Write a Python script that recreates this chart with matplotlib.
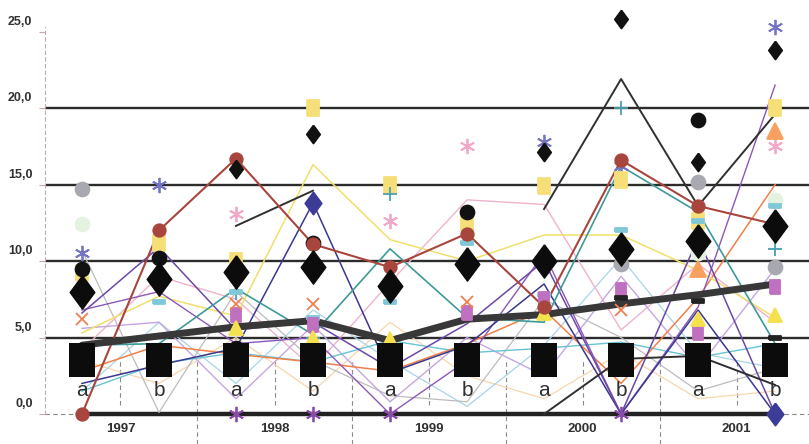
import numpy as np
import matplotlib.pyplot as plt
from matplotlib.transforms import ScaledTranslation

nan = np.nan

groups = ['a', 'b', 'a', 'b', 'a', 'b', 'a', 'b', 'a', 'b']
years = ['1997', '1998', '1999', '2000', '2001']
y_ticks = [0, 5, 10, 15, 20, 25]

# thin series lines
red = [0.0, 12.0, 16.7, 11.1, 9.6, 11.8, 7.0, 16.6, 13.6, 12.4]
yellow = [5.3, 7.7, 6.4, 16.3, 11.4, 10.0, 11.7, 11.7, 9.4, 6.3]
teal = [4.5, 4.6, 8.2, 5.2, 10.8, 6.3, 6.0, 16.2, 13.2, 4.6]
purple = [6.6, 10.9, 5.5, 6.0, 3.0, 5.9, 10.0, 0.0, 11.5, 0.0]
navy = [2.0, 3.2, 4.3, 13.8, 2.7, 4.5, 8.5, 0.0, 6.8, 0.0]
orange = [2.8, 4.5, 3.9, 3.4, 2.8, 4.6, 6.8, 2.0, 7.6, 15.0]
cyan = [1.5, 3.3, 4.0, 3.4, 4.8, 4.0, 4.3, 4.7, 3.7, 4.6]
lavender = [5.6, 6.0, 1.0, 5.8, 0.8, 5.0, 2.5, 9.0, 3.0, 9.5]
pink = [4.2, 9.0, 7.5, 3.0, 8.6, 14.0, 13.7, 5.5, 9.8, 6.0]
grey = [10.7, 0.1, 8.0, 3.5, 1.2, 0.8, 7.5, 5.0, 1.5, 3.0]
violet = [6.8, 8.0, 4.6, 5.0, 0.0, 3.5, 10.5, 0.0, 7.0, 21.5]
lightblue = [1.5, 6.0, 2.0, 6.8, 3.5, 0.5, 4.5, 10.2, 4.0, 3.0]
peach = [3.5, 2.0, 5.0, 1.5, 6.0, 2.5, 1.0, 4.0, 1.0, 1.5]
black_hi = [nan, nan, 12.3, 14.6, nan, nan, 13.4, 21.9, 13.6, 19.6]
black_lo = [nan, nan, nan, nan, nan, nan, 0.0, 3.6, 3.8, 1.9]

# thick mean line, boxes, diamonds
mean_line = [4.5, 5.1, 5.7, 6.1, 4.8, 6.2, 6.5, 7.2, 7.8, 8.5]
box_mid = [3.5, 3.5, 3.5, 3.5, 3.5, 3.5, 3.5, 3.5, 3.5, 3.5]
big_diamond = [8.0, 8.8, 9.3, 9.6, 8.4, 9.8, 10.0, 10.8, 11.3, 12.3]
max_diamond = [nan, nan, 16.0, 18.3, nan, nan, 17.1, 25.8, 16.5, 23.8]

# marker-only points
grey_circ = [14.7, nan, nan, nan, nan, nan, nan, 9.8, 15.2, 9.6]
green_circ = [12.4, nan, nan, nan, nan, nan, nan, nan, 10.5, 14.0]
blue_star = [10.5, 15.0, nan, nan, nan, nan, 17.8, 16.2, nan, 25.3]
pink_star = [nan, nan, 13.1, nan, 12.6, 17.5, nan, nan, nan, 17.5]
yellow_sq = [9.2, 11.2, 10.0, 20.0, 15.0, 12.5, 14.9, 15.3, 12.6, 20.0]
teal_plus = [nan, nan, 7.9, 5.0, 14.4, nan, nan, 20.0, nan, 10.8]
black_circ = [9.5, 10.2, 4.3, 11.2, nan, 13.2, nan, nan, 19.2, nan]
cyan_dash = [4.4, 7.3, 8.0, 6.3, 7.3, 11.2, 7.8, 12.0, 12.6, 13.6]
violet_sq = [nan, nan, 6.5, 5.8, 3.5, 6.6, 7.5, 8.1, 5.3, 8.3]
yellow_tri = [nan, nan, 5.6, 5.0, 4.9, nan, 6.6, nan, 6.2, 6.5]
orange_tri = [nan, nan, nan, nan, nan, nan, nan, nan, 9.5, 18.5]
orange_x = [6.2, nan, 7.2, 7.2, nan, 7.3, nan, 6.8, nan, nan]
purple_x = [nan, nan, 0.0, 0.0, 0.0, nan, nan, 0.0, nan, nan]
navy_diam = [nan, nan, nan, 13.8, nan, nan, nan, nan, nan, 0.0]
black_dash = [nan, nan, nan, nan, nan, nan, nan, 7.6, 7.4, 5.0]

x = np.arange(len(groups))

rect = [(-0.375, -0.5), (0.375, -0.5), (0.375, 0.5), (-0.375, 0.5), (-0.375, -0.5)]
diam = [(0, 0.5), (0.37, 0), (0, -0.5), (-0.37, 0), (0, 0.5)]
flat = [(-0.5, -0.2), (0.5, -0.2), (0.5, 0.2), (-0.5, 0.2), (-0.5, -0.2)]

fig = plt.figure(figsize=(8.09, 4.44), dpi=100)
ax = fig.add_axes([45 / 809, 0, 764 / 809, 417 / 444])
ax.set_xlim(-0.48, 9.44)
ax.set_ylim(-1.96, 25.3)

# grid
for v in y_ticks[1:5]:
    ax.axhline(v, color='#2c2c2c', lw=1.7, zorder=1)
ax.axhline(0, color='#888888', lw=0.8, ls=(0, (4, 3)), zorder=1)
ax.hlines(0, x[0], x[-1], color='#222222', lw=3.2, zorder=2)
ax.vlines(x[1:-1:2] + 0.5, -1.96, 3.5, color='#8a8a8a', lw=0.8, ls=(0, (4, 3)), zorder=1)
ax.vlines(x[::2] + 0.5, 0.6, 3.5, color='#8a8a8a', lw=0.8, ls=(0, (4, 3)), zorder=1)

thin = [
    (peach, '#f8d6ae', 0.9), (lightblue, '#a8d4e8', 0.9), (grey, '#bcbcbc', 0.9),
    (pink, '#f0b2cc', 1.0), (lavender, '#c4a6e0', 1.0), (cyan, '#68c4d4', 1.0),
    (orange, '#f08048', 1.1), (yellow, '#f0e06a', 1.1), (violet, '#8c58b8', 1.0),
    (navy, '#3a3890', 1.1), (purple, '#6b48a5', 1.1), (teal, '#3e9a98', 1.2),
    (black_hi, '#303030', 1.4), (black_lo, '#303030', 1.4), (red, '#a8453d', 1.5),
]
for vals, col, lw in thin:
    ax.plot(x, vals, color=col, lw=lw, zorder=3)

ax.plot(x, mean_line, color='#383838', lw=5, solid_capstyle='round', zorder=4)

pts = [
    (grey_circ, 'o', '#a8a8b0', 10), (green_circ, 'o', '#e4f2e0', 10),
    (blue_star, (6, 2, 0), '#7474c4', 11), (pink_star, (6, 2, 0), '#f0a8c8', 11),
    (yellow_sq, rect, '#f6de78', 12), (teal_plus, '+', '#4aa0b0', 10),
    (cyan_dash, flat, '#80c8d8', 8), (violet_sq, rect, '#c070c0', 10),
    (yellow_tri, '^', '#f5e050', 10), (orange_tri, '^', '#f8a060', 11),
    (orange_x, 'x', '#f08050', 9), (purple_x, (6, 2, 0), '#8a4aa8', 11),
    (navy_diam, diam, '#3c3c96', 16), (black_dash, flat, '#222222', 8),
    (black_circ, 'o', '#111111', 10), (red, 'o', '#a8453d', 9),
    (max_diamond, diam, '#111111', 13),
]
for vals, mk, col, ms in pts:
    ax.plot(x, vals, ls='none', marker=mk, color=col, ms=ms, mew=1.3,
            clip_on=False, zorder=5)

ax.plot(x, box_mid, ls='none', marker=rect, color='#0c0c0c', ms=25, mew=0, zorder=6)
ax.plot(x, big_diamond, ls='none', marker=diam, color='#0c0c0c', ms=24, zorder=7)

for i, g in enumerate(groups):
    ax.text(x[i], 1.15, g, ha='center', va='baseline', fontsize=15,
            color='#303030', family='Liberation Sans', zorder=8)
for i, yr in enumerate(years):
    ax.text(x[2 * i] + 0.5, -0.95, yr, ha='center', va='center', fontsize=9.5,
            fontweight='bold', color='#303030', family='Liberation Sans')

for s in ['top', 'right', 'bottom']:
    ax.spines[s].set_visible(False)
ax.spines['left'].set_bounds(0, 25.3)
ax.spines['left'].set_linestyle((0, (3, 3)))
ax.spines['left'].set_color('#c8a8a8')
ax.spines['left'].set_linewidth(0.8)
ax.set_xticks([])
ax.set_yticks(y_ticks)
ax.set_yticklabels([f'{v:.1f}'.replace('.', ',') for v in y_ticks],
                   fontsize=9, fontweight='bold', color='#303030', family='Liberation Sans')
ax.tick_params(axis='y', length=4, color='#c8a8a8', pad=5)
for lab in ax.get_yticklabels():
    lab.set_transform(lab.get_transform() + ScaledTranslation(0, 8 / 72, fig.dpi_scale_trans))

fig.savefig('out.png', dpi=100)
